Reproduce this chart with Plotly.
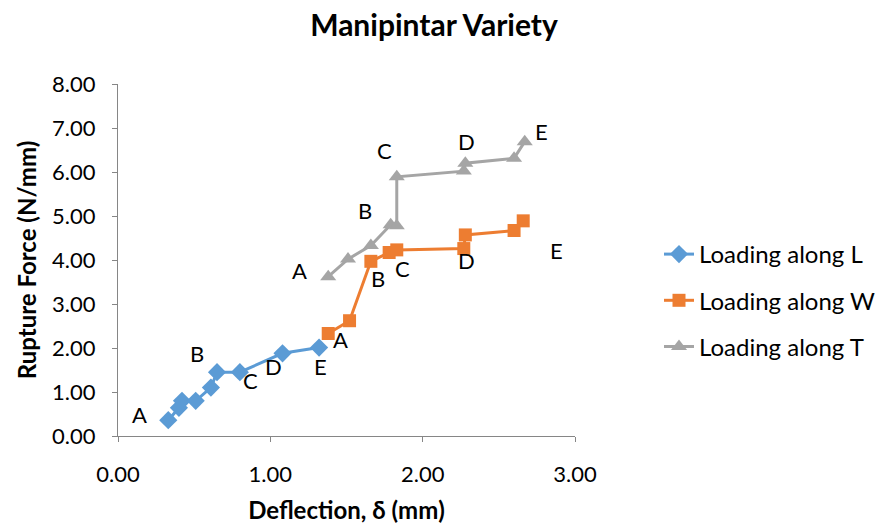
import plotly.graph_objects as go

# ---- data ----
L_x = [0.33, 0.40, 0.42, 0.51, 0.61, 0.65, 0.80, 1.08, 1.32]
L_y = [0.36, 0.64, 0.80, 0.80, 1.10, 1.45, 1.45, 1.88, 2.01]

W_x = [1.38, 1.52, 1.66, 1.78, 1.83, 2.27, 2.28, 2.60, 2.66]
W_y = [2.33, 2.62, 3.97, 4.17, 4.23, 4.26, 4.57, 4.67, 4.89]

T_x = [1.38, 1.51, 1.66, 1.79, 1.83, 1.83, 2.27, 2.28, 2.60, 2.67]
T_y = [3.62, 4.02, 4.33, 4.80, 4.78, 5.89, 6.02, 6.20, 6.31, 6.69]

point_labels = ["A", "B", "C", "D", "E"]
L_lab_x = [0.14, 0.52, 0.87, 1.02, 1.33]
L_lab_y = [0.50, 1.88, 1.27, 1.57, 1.57]
W_lab_x = [1.46, 1.71, 1.87, 2.29, 2.88]
W_lab_y = [2.20, 3.58, 3.81, 3.98, 4.21]
T_lab_x = [1.19, 1.62, 1.75, 2.29, 2.78]
T_lab_y = [3.77, 5.12, 6.48, 6.69, 6.92]

x_ticks = [0, 1, 2, 3]
y_ticks = [0, 1, 2, 3, 4, 5, 6, 7, 8]

FONT = "Lato, 'Open Sans', sans-serif"

fig = go.Figure()
fig.add_trace(go.Scatter(x=L_x, y=L_y, mode="lines+markers", name="Loading along L",
                         legendgroup="L",
                         line=dict(color="#5B9BD5", width=3),
                         marker=dict(symbol="diamond", size=14, color="#5B9BD5")))
fig.add_trace(go.Scatter(x=W_x, y=W_y, mode="lines+markers", name="Loading along W",
                         legendgroup="W",
                         line=dict(color="#ED7D31", width=3),
                         marker=dict(symbol="square", size=13, color="#ED7D31")))
fig.add_trace(go.Scatter(x=T_x, y=T_y, mode="lines+markers", name="Loading along T",
                         legendgroup="T",
                         line=dict(color="#A5A5A5", width=3),
                         marker=dict(symbol="triangle-up", size=14, color="#A5A5A5")))

for lx, ly in [(L_lab_x, L_lab_y), (W_lab_x, W_lab_y), (T_lab_x, T_lab_y)]:
    for t, xx, yy in zip(point_labels, lx, ly):
        fig.add_annotation(x=xx, y=yy, text=t, showarrow=False,
                           font=dict(size=22, color="#000000", family=FONT))

fig.update_layout(
    width=880, height=524,
    margin=dict(l=118, r=305, t=84, b=88, autoexpand=False),
    paper_bgcolor="white", plot_bgcolor="white",
    font=dict(family=FONT, color="#000000"),
    title=dict(text="<b>Manipintar Variety</b>", x=(434) / 880, xanchor="center",
               y=1 - 25 / 524, yanchor="middle",
               font=dict(size=30, family=FONT, color="#000000")),
    showlegend=True,
    legend=dict(x=(659 - 118) / 457, y=(524 - 88 - 232) / 352, xanchor="left", yanchor="top",
                font=dict(size=24, family=FONT, color="#000000"),
                tracegroupgap=12, bgcolor="rgba(0,0,0,0)"),
)
fig.update_xaxes(range=[0, 3], tickvals=x_ticks, ticktext=[f"{v:.2f}" for v in x_ticks],
                 automargin=False,
                 showgrid=False, zeroline=False, showline=True, linecolor="#868686", linewidth=1,
                 ticks="outside", ticklen=5, tickcolor="#868686", ticklabelstandoff=14,
                 tickfont=dict(size=22, family=FONT, color="#000000"),
                 title=dict(text="<b>Deflection, δ (mm)</b>", standoff=17,
                            font=dict(size=24, family=FONT, color="#000000")))
fig.update_yaxes(range=[0, 8], tickvals=y_ticks, ticktext=[f"{v:.2f}" for v in y_ticks],
                 automargin=False,
                 showgrid=False, zeroline=False, showline=True, linecolor="#868686", linewidth=1,
                 ticks="outside", ticklen=5, tickcolor="#868686", ticklabelstandoff=12,
                 tickfont=dict(size=22, family=FONT, color="#000000"),
                 title=dict(text="<b>Rupture Force (N/mm)</b>", standoff=8,
                            font=dict(size=24, family=FONT, color="#000000")))

fig.write_html("out.html")
